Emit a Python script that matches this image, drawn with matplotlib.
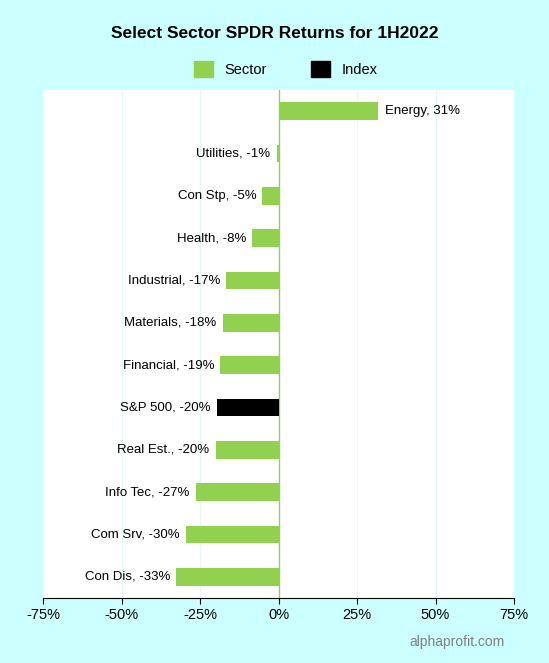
import matplotlib.pyplot as plt
import matplotlib.patches as mpatches

sectors = ["Energy", "Utilities", "Con Stp", "Health", "Industrial", "Materials",
           "Financial", "S&P 500", "Real Est.", "Info Tec", "Com Srv", "Con Dis"]
returns = [31.8, -0.6, -5.1, -8.3, -16.6, -17.8, -18.5, -19.7, -20.0, -26.4, -29.6, -32.5]
labels = ["31%", "-1%", "-5%", "-8%", "-17%", "-18%", "-19%", "-20%", "-20%", "-27%", "-30%", "-33%"]
is_index = [s == "S&P 500" for s in sectors]

bg = "#ccffff"
green = "#92d050"

fig = plt.figure(figsize=(5.49, 6.63), dpi=100, facecolor=bg)
ax = fig.add_axes([43/549, 1 - 598/663, 471/549, 508/663])
ax.set_facecolor("white")

y = list(range(len(sectors)))[::-1]
colors = ["black" if i else green for i in is_index]
ax.barh(y, returns, height=0.42, color=colors, zorder=3)

for yi, v, s, l in zip(y, returns, sectors, labels):
    if v >= 0:
        ax.text(v + 2, yi, f"{s}, {l}", ha="left", va="center", fontsize=9.5, family="Liberation Sans")
    else:
        ax.text(v - 2, yi, f"{s}, {l}", ha="right", va="center", fontsize=9.5, family="Liberation Sans")

ax.set_xlim(-75, 75)
ax.set_ylim(-0.5, len(sectors) - 0.5)
ax.set_xticks([-75, -50, -25, 0, 25, 50, 75])
ax.set_xticklabels(["-75%", "-50%", "-25%", "0%", "25%", "50%", "75%"], fontsize=10.5, family="Liberation Sans")
ax.set_yticks([])
for x in [-50, -25, 25, 50]:
    ax.axvline(x, color="#e6f7f7", linewidth=0.8, zorder=1)
ax.axvline(0, color=green, linewidth=1, zorder=2)
for sp in ax.spines.values():
    sp.set_visible(False)
ax.tick_params(axis="x", length=4, color="black")
ax.spines["bottom"].set_visible(True)

fig.text(0.5, 1 - 33/663, "Select Sector SPDR Returns for 1H2022", ha="center", va="center",
         fontsize=12.5, fontweight="bold", family="Liberation Sans")
handles = [mpatches.Patch(color=green, label="Sector"), mpatches.Patch(color="black", label="Index")]
fig.legend(handles=handles, loc="center", bbox_to_anchor=(0.52, 1 - 69/663), ncol=2, frameon=False,
           handlelength=1.3, handleheight=1.3, columnspacing=3, prop={"family": "Liberation Sans", "size": 10.5})
fig.text(505/549, 1 - 642/663, "alphaprofit.com", ha="right", va="center", fontsize=10,
         color="#808080", family="Liberation Sans")

fig.savefig("out.png", dpi=100, facecolor=bg)
